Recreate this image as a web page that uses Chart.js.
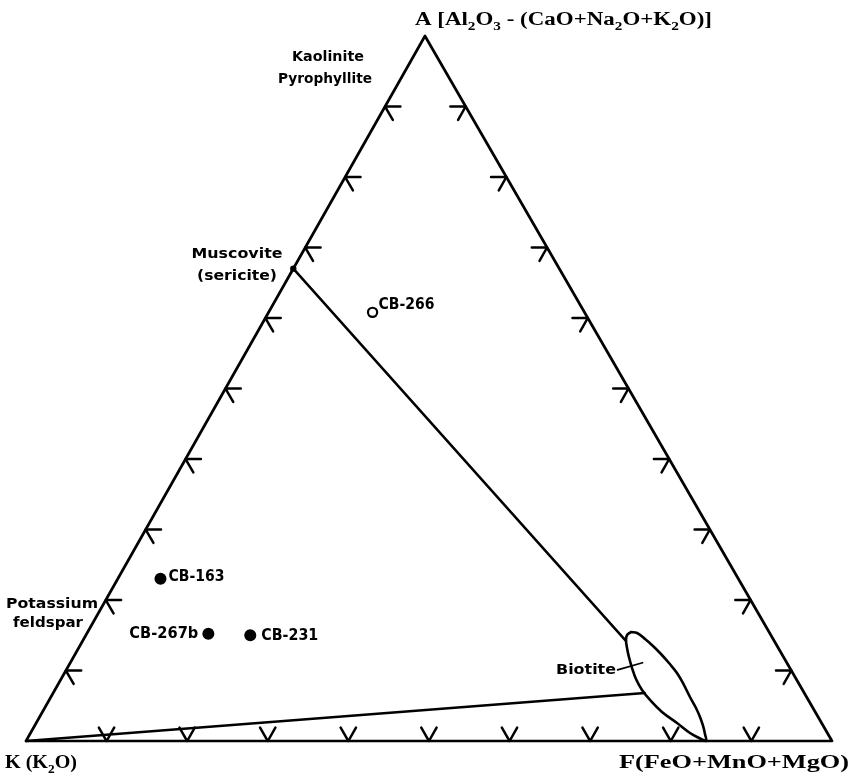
<!DOCTYPE html>
<html><head><meta charset="utf-8">
<script src="https://cdn.jsdelivr.net/npm/chart.js@4/dist/chart.umd.min.js"></script>
<style>html,body{margin:0;padding:0;background:#fff}#wrap{width:856px;height:774px;position:relative}</style>
</head><body><div id="wrap"><canvas id="c" width="856" height="774"></canvas></div>
<script>
// ---- Data (ternary fractions A, K, F) ----
const tickValues = [0.1, 0.2, 0.3, 0.4, 0.5, 0.6, 0.7, 0.8, 0.9];

const sampleNames = ['CB-266', 'CB-163', 'CB-267b', 'CB-231'];
const sampleA = [0.608, 0.230, 0.152, 0.150];
const sampleK = [0.263, 0.717, 0.697, 0.646];
const sampleF = [0.129, 0.053, 0.151, 0.204];
const sampleOpen = [true, false, false, false];

const muscoviteA = [0.67];
const muscoviteK = [0.33];
const muscoviteF = [0.0];

const biotiteA = [0.1546, 0.1532, 0.1447, 0.1348, 0.1234, 0.1106, 0.0965, 0.0794, 0.0624, 0.0468, 0.0340, 0.0213, 0.0099, 0.0000,
                  0.0043, 0.0113, 0.0255, 0.0411, 0.0582, 0.0723, 0.0879, 0.1035, 0.1191, 0.1319, 0.1433, 0.1504, 0.1546];
const biotiteK = [0.1713, 0.1645, 0.1589, 0.1540, 0.1499, 0.1464, 0.1436, 0.1435, 0.1447, 0.1451, 0.1466, 0.1492, 0.1526, 0.1563,
                  0.1628, 0.1705, 0.1794, 0.1902, 0.1964, 0.1992, 0.1988, 0.1958, 0.1918, 0.1877, 0.1832, 0.1783, 0.1713];
const biotiteF = [0.6741, 0.6823, 0.6964, 0.7112, 0.7267, 0.7430, 0.7599, 0.7771, 0.7929, 0.8081, 0.8194, 0.8295, 0.8375, 0.8437,
                  0.8329, 0.8182, 0.7951, 0.7687, 0.7454, 0.7285, 0.7133, 0.7007, 0.6891, 0.6804, 0.6735, 0.6713, 0.6741];

const tieMuscoviteA = [0.67, 0.142];
const tieMuscoviteK = [0.33, 0.184];
const tieMuscoviteF = [0.00, 0.674];

const tieKspA = [0.0, 0.068];
const tieKspK = [1.0, 0.198];
const tieKspF = [0.0, 0.734];

const leaderA = [0.101, 0.111];
const leaderK = [0.215, 0.179];
const leaderF = [0.684, 0.710];

// ---- projection ----
const APEX_X = 0.495;
function tern(a, k, f) {
  const s = a + k + f;
  a /= s; f /= s;
  return { x: f + a * APEX_X, y: a };
}
function series(A, K, F) { return A.map((a, i) => tern(a, K[i], F[i])); }

const BLACK = '#000';
const datasets = [];
function lineDs(pts, width, tension) {
  datasets.push({ data: pts, showLine: true, borderColor: BLACK, borderWidth: width,
    pointRadius: 0, pointHoverRadius: 0, tension: tension || 0, clip: false, fill: false });
}

// triangle frame
lineDs([tern(0,1,0), tern(0,0,1), tern(1,0,0), tern(0,1,0)], 2.7);

// tick chevrons
const d = 0.019;
tickValues.forEach(v => {
  lineDs([tern(v, 1 - v - d, d), tern(v, 1 - v, 0), tern(v - d, 1 - v, d)], 2.5);
  lineDs([tern(v, d, 1 - v - d), tern(v, 0, 1 - v), tern(v - d, d, 1 - v)], 2.5);
  lineDs([tern(d, 1 - v, v - d), tern(0, 1 - v, v), tern(d, 1 - v - d, v)], 2.5);
});

// tie lines
lineDs(series(tieMuscoviteA, tieMuscoviteK, tieMuscoviteF), 2.5);
lineDs(series(tieKspA, tieKspK, tieKspF), 2.5);
lineDs(series(leaderA, leaderK, leaderF), 1.8);
// biotite field
lineDs(series(biotiteA, biotiteK, biotiteF), 2.6, 0.4);

// muscovite point
datasets.push({ data: series(muscoviteA, muscoviteK, muscoviteF), showLine: false,
  pointRadius: 3.2, backgroundColor: BLACK, borderColor: BLACK, borderWidth: 0, clip: false });

// samples
const samplePts = series(sampleA, sampleK, sampleF);
datasets.push({ data: samplePts, showLine: false,
  pointRadius: sampleOpen.map(o => o ? 4.6 : 6),
  backgroundColor: sampleOpen.map(o => o ? '#fff' : BLACK),
  borderColor: BLACK, borderWidth: sampleOpen.map(o => o ? 2.2 : 0), clip: false });

// ---- text ----
const SERIF = '"Liberation Serif", "DejaVu Serif", serif';
const SANS = '"DejaVu Sans", "Liberation Sans", sans-serif';

function drawRich(ctx, segs, x, y, size, family, width, align) {
  ctx.save();
  const subSize = Math.round(size * 0.68);
  let w = 0;
  segs.forEach(s => { ctx.font = 'bold ' + (s[1] ? subSize : size) + 'px ' + family; w += ctx.measureText(s[0]).width; });
  const sx = width ? width / w : 1;
  const total = w * sx;
  let left = align === 'right' ? x - total : (align === 'center' ? x - total / 2 : x);
  ctx.translate(left, y);
  ctx.scale(sx, 1);
  ctx.fillStyle = BLACK;
  ctx.textBaseline = 'alphabetic';
  ctx.textAlign = 'left';
  let cx = 0;
  segs.forEach(s => {
    ctx.font = 'bold ' + (s[1] ? subSize : size) + 'px ' + family;
    ctx.fillText(s[0], cx, s[1] ? size * 0.25 : 0);
    cx += ctx.measureText(s[0]).width;
  });
  ctx.restore();
}

const labelPlugin = {
  id: 'labels',
  afterDatasetsDraw(chart) {
    const ctx = chart.ctx;
    const xs = chart.scales.x, ys = chart.scales.y;
    const px = p => ({ x: xs.getPixelForValue(p.x), y: ys.getPixelForValue(p.y) });
    const apex = px(tern(1, 0, 0)), kc = px(tern(0, 1, 0)), fc = px(tern(0, 0, 1));

    drawRich(ctx, [['A [Al'], ['2', 1], ['O'], ['3', 1], [' - (CaO+Na'], ['2', 1], ['O+K'], ['2', 1], ['O)]']],
      apex.x - 10, apex.y - 11, 18, SERIF, 297, 'left');
    drawRich(ctx, [['K (K'], ['2', 1], ['O)']], kc.x - 21, kc.y + 27, 18, SERIF, 72, 'left');
    drawRich(ctx, [['F(FeO+MnO+MgO)']], fc.x + 17, fc.y + 27, 18, SERIF, 230, 'right');

    drawRich(ctx, [['Kaolinite']], 328, 61, 14, SANS, 72, 'center');
    drawRich(ctx, [['Pyrophyllite']], 325, 83, 14, SANS, 94, 'center');
    drawRich(ctx, [['Muscovite']], 237, 258, 14, SANS, 91, 'center');
    drawRich(ctx, [['(sericite)']], 237, 280, 14, SANS, 80, 'center');
    drawRich(ctx, [['Potassium']], 52, 608, 14, SANS, 92, 'center');
    drawRich(ctx, [['feldspar']], 48, 627, 14, SANS, 70, 'center');
    drawRich(ctx, [['Biotite']], 616, 674, 14, SANS, 60, 'right');

    const offs = [[6, -3, 'left', 56], [8, 2, 'left', 56], [-10, 4, 'right', 69], [11, 5, 'left', 57]];
    samplePts.forEach((p, i) => {
      const q = px(p);
      const o = offs[i];
      drawRich(ctx, [[sampleNames[i]]], q.x + o[0], q.y + o[1], 15, SANS, o[3], o[2]);
    });
  }
};

new Chart(document.getElementById('c'), {
  type: 'scatter',
  data: { datasets },
  options: {
    responsive: false,
    animation: false,
    layout: { padding: { left: 26, right: 24, top: 36, bottom: 33 } },
    scales: {
      x: { type: 'linear', min: 0, max: 1, display: false },
      y: { type: 'linear', min: 0, max: 1, display: false }
    },
    plugins: { legend: { display: false }, tooltip: { enabled: false } },
    elements: { line: { borderCapStyle: 'round', borderJoinStyle: 'round' } }
  },
  plugins: [labelPlugin]
});
</script>
</body></html>
